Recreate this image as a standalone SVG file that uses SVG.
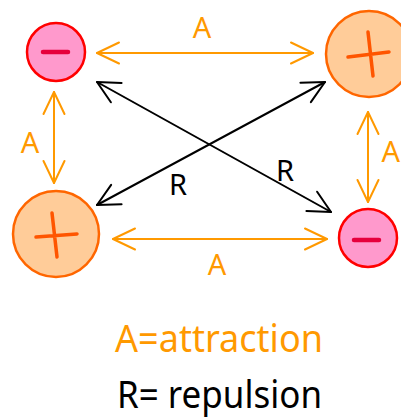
<svg xmlns="http://www.w3.org/2000/svg" width="401" height="419" viewBox="0 0 401 419">
<defs>
<style>
.orange{stroke:#ff9900;stroke-width:2;fill:none;stroke-linecap:round}
.black{stroke:#000;stroke-width:2;fill:none;stroke-linecap:round}
.neg circle{fill:#ff99cc;stroke:#ff0000;stroke-width:2.5}
.neg path{stroke:#e6003c;stroke-width:4.5;stroke-linecap:round;fill:none}
.pos circle{fill:#ffcc99;stroke:#ff6600;stroke-width:2.5}
.pos path{stroke:#ff5500;stroke-width:3.5;stroke-linecap:round;fill:none}
text{font-family:"Noto Sans","DejaVu Sans",sans-serif}
.lo{fill:#ff9900}
.lb{fill:#000}
</style>
<marker id="ao" markerUnits="userSpaceOnUse" viewBox="-25 -13 28 26" markerWidth="28" markerHeight="26" refX="0" refY="0" orient="auto-start-reverse">
<path d="M-22,-10.5 L0,0 L-22,10.5" fill="none" stroke="#ff9900" stroke-width="2" stroke-linecap="round" stroke-linejoin="round"/>
</marker>
<marker id="ab" markerUnits="userSpaceOnUse" viewBox="-25 -13 28 26" markerWidth="28" markerHeight="26" refX="0" refY="0" orient="auto-start-reverse">
<path d="M-22,-11 L0,0 L-22,11" fill="none" stroke="#000" stroke-width="2" stroke-linecap="round" stroke-linejoin="round"/>
</marker>
</defs>
<rect width="401" height="419" fill="#fff"/>
<g id="connectors">
<path class="orange" d="M97,53 L313,53" marker-start="url(#ao)" marker-end="url(#ao)"/>
<path class="orange" d="M113,239 L327,239" marker-start="url(#ao)" marker-end="url(#ao)"/>
<path class="orange" d="M54,92 L54,183" marker-start="url(#ao)" marker-end="url(#ao)"/>
<path class="orange" d="M368,112 L368,202" marker-start="url(#ao)" marker-end="url(#ao)"/>
<path class="black" d="M97,82 L331,212" marker-start="url(#ab)" marker-end="url(#ab)"/>
<path class="black" d="M97,205 L325,82" marker-start="url(#ab)" marker-end="url(#ab)"/>
<text class="lo" x="202" y="38" font-size="29" text-anchor="middle">A</text>
<text class="lo" x="30" y="153" font-size="29" text-anchor="middle">A</text>
<text class="lo" x="400" y="162" font-size="29" text-anchor="end">A</text>
<text class="lo" x="217" y="275" font-size="29" text-anchor="middle">A</text>
<text class="lb" x="178" y="195" font-size="29" text-anchor="middle">R</text>
<text class="lb" x="285" y="181" font-size="29" text-anchor="middle">R</text>
</g>
<g id="node-tl" class="neg">
<circle cx="56" cy="52" r="29"/>
<path d="M43,52 L68,52"/>
</g>
<g id="node-tr" class="pos">
<circle cx="369" cy="54" r="43"/>
<path d="M348,57 L389,52 M368,32 L373,76"/>
</g>
<g id="node-bl" class="pos">
<circle cx="56" cy="234" r="43"/>
<path d="M36,237 L77,234 M52,213 L57,257"/>
</g>
<g id="node-br" class="neg">
<circle cx="368" cy="238" r="29"/>
<path d="M354,240 L379,240"/>
</g>
<g id="legend">
<text class="lo" x="115" y="352" font-size="38" textLength="208" lengthAdjust="spacingAndGlyphs">A=attraction</text>
<text class="lb" x="117" y="408" font-size="38" textLength="205" lengthAdjust="spacingAndGlyphs">R= repulsion</text>
</g>
</svg>
